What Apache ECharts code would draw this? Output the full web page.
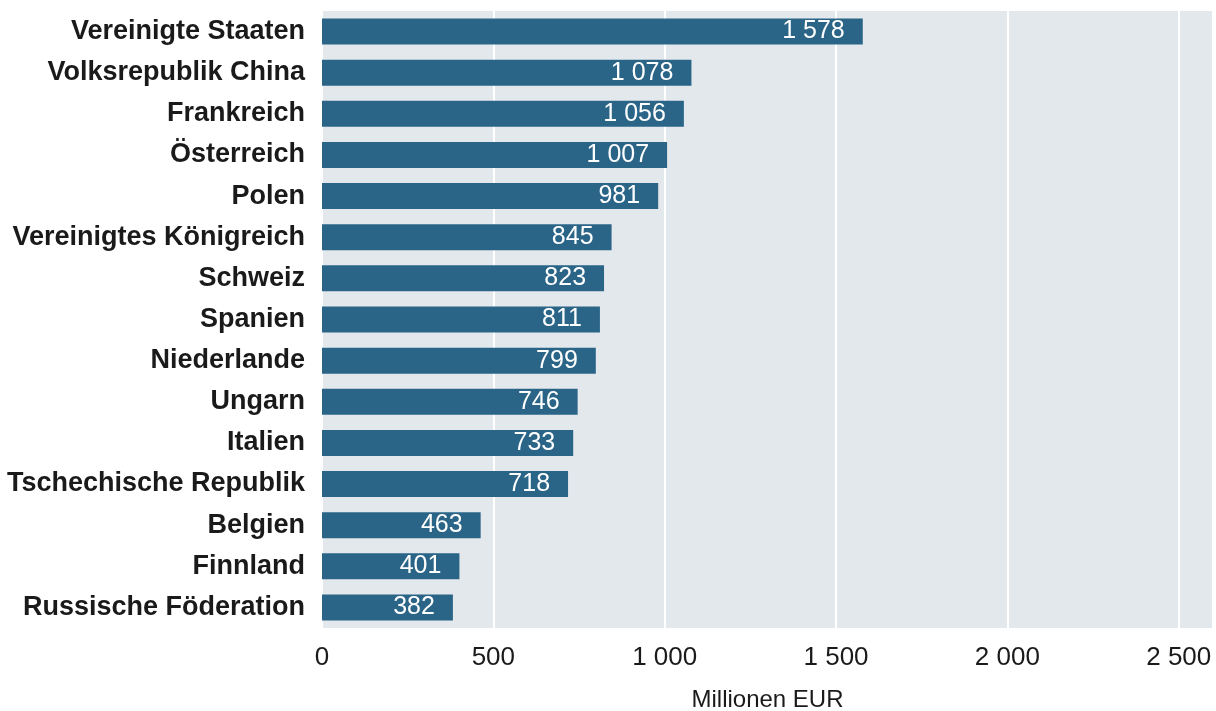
<!DOCTYPE html>
<html><head><meta charset="utf-8">
<script src="https://cdn.jsdelivr.net/npm/echarts@6/dist/echarts.min.js"></script>
<style>html,body{margin:0;padding:0;background:#fff}#c{width:1216px;height:711px}</style>
</head><body><div id="c"></div>
<script>
const categories = ["Vereinigte Staaten","Volksrepublik China","Frankreich","Österreich","Polen","Vereinigtes Königreich","Schweiz","Spanien","Niederlande","Ungarn","Italien","Tschechische Republik","Belgien","Finnland","Russische Föderation"];
const values = [1578,1078,1056,1007,981,845,823,811,799,746,733,718,463,401,382];
const axisName = "Millionen EUR";
function fmt(v){return String(v).replace(/\B(?=(\d{3})+(?!\d))/g,' ');}
const FF = "Liberation Sans";
const chart = echarts.init(document.getElementById('c'));
chart.setOption({
  animation:false,
  grid:{left:322,right:3,top:11,bottom:83,show:true,backgroundColor:'#e3e8ec',borderWidth:0,
    containLabel:false,outerBoundsMode:'none'},
  xAxis:{type:'value',min:0,max:2600,interval:500,
    name:axisName,nameLocation:'middle',nameGap:60,
    nameTextStyle:{fontFamily:FF,fontSize:24,color:'#1a1a1a'},
    axisLine:{show:false},axisTick:{show:false},
    axisLabel:{fontFamily:FF,fontSize:26,color:'#1a1a1a',margin:17,showMaxLabel:false,
      formatter:v=> v%500===0?fmt(v):''},
    splitLine:{show:true,lineStyle:{color:'#ffffff',width:2}}},
  yAxis:{type:'category',data:categories,inverse:true,
    axisLine:{show:false},axisTick:{show:false},
    axisLabel:{fontFamily:FF,fontSize:27,fontWeight:'bold',color:'#1a1a1a',margin:17},
    splitLine:{show:false}},
  series:[{type:'bar',data:values,barWidth:26,
    itemStyle:{color:'#2a6588'},
    label:{show:true,position:'insideRight',distance:18,color:'#fff',fontFamily:FF,fontSize:25,
      formatter:p=>fmt(p.value)}}]
});
</script></body></html>
